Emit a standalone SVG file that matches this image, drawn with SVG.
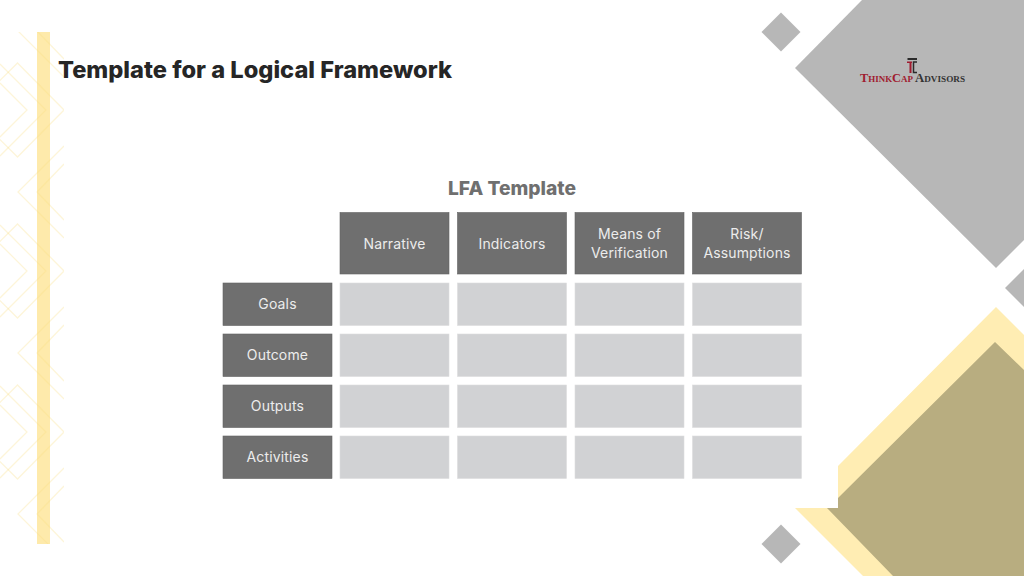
<svg xmlns="http://www.w3.org/2000/svg" width="1024" height="576" viewBox="0 0 1024 576">
<style>
.g{fill:#b7b7b7}.y{fill:#ffedb3}.o{fill:#b8ad80}
.d{fill:#6f6f6f;stroke:#636363;stroke-width:.6}.l{fill:#d1d2d4;stroke:#dcdcde;stroke-width:.6}
.t{font-family:Inter,"Liberation Sans",sans-serif;font-size:14px;letter-spacing:.15px;fill:#ececec;text-anchor:middle}
.p{fill:none;stroke:#f9dd80;stroke-opacity:.3;stroke-width:1.3}
.lg{font-family:"Liberation Serif",serif;font-size:12.5px;font-variant:small-caps;font-weight:bold}
</style>
<defs>
<clipPath id="c"><rect x="0" y="32" width="64" height="512"/></clipPath>
<g id="tile" class="p">
<path d="M-30 110L17.500 63L64 110L17.500 157L-30 110"/>
<path d="M0 64L46 110L0 156"/>
<path d="M0 83L27 110L0 137"/>
<path d="M64 146L18 192L64 238"/>
<path d="M64 164L37 192L64 220"/>
</g>
</defs>
<rect width="1024" height="576" fill="#fff"/>
<g id="pattern-back"><rect x="37" y="32" width="13" height="512" fill="#feeaab"/>
<g clip-path="url(#c)"><use href="#tile" y="-161"/><use href="#tile"/><use href="#tile" y="161"/><use href="#tile" y="322"/></g></g>
<g id="decor">
<path class="g" d="M862 0H1024V240L996 268L795 68Z"/>
<path class="g" d="M781 12.500L800.500 32L781 51.500L761.500 32Z"/>
<path class="g" d="M781 524.500L800.500 544L781 563.500L761.500 544Z"/>
<path class="g" d="M1024 269V307L1005 288Z"/>
<path class="y" d="M996 307L1024 335V576H863L795 508H838V466Z"/>
<path class="o" d="M995 342L1024 370V576H893L827 508H838V498Z"/>
</g>
<g id="logo">
<rect x="907.500" y="58" width="9.500" height="2" fill="#2b2b2b"/>
<rect x="907" y="61.500" width="5" height="1.500" fill="#a01c30"/>
<rect x="909.500" y="62" width="2" height="11" fill="#a01c30"/>
<path d="M917 62H913.500V72.500H917" fill="none" stroke="#2b2b2b" stroke-width="1.500"/>
<text class="lg" x="860" y="81.500" fill="#a01c30" textLength="53" lengthAdjust="spacingAndGlyphs">ThinkCap</text>
<text class="lg" x="915" y="81.500" fill="#333" textLength="50" lengthAdjust="spacingAndGlyphs">Advisors</text>
</g>
<text id="title" x="58" y="78" font-family="Inter,'Liberation Sans',sans-serif" font-weight="800" font-size="23" fill="#262626" textLength="394" lengthAdjust="spacingAndGlyphs">Template for a Logical Framework</text>
<text id="subtitle" x="512" y="195" text-anchor="middle" font-family="Inter,'Liberation Sans',sans-serif" font-weight="800" font-size="19" fill="#6f6f6f" textLength="128" lengthAdjust="spacingAndGlyphs">LFA Template</text>
<g id="headers">
<g id="h1"><rect class="d" x="340" y="212.500" width="109" height="61.500"/><text class="t" x="394.500" y="248.500">Narrative</text></g>
<g id="h2"><rect class="d" x="457.500" y="212.500" width="109" height="61.500"/><text class="t" x="512" y="248.500">Indicators</text></g>
<g id="h3"><rect class="d" x="575" y="212.500" width="109" height="61.500"/><text class="t" x="629.500" y="239">Means of</text><text class="t" x="629.500" y="258">Verification</text></g>
<g id="h4"><rect class="d" x="692.500" y="212.500" width="109" height="61.500"/><text class="t" x="747" y="239">Risk/</text><text class="t" x="747" y="258">Assumptions</text></g>
</g>
<g id="rows">
<g id="r1"><rect class="d" x="223" y="283" width="109" height="42.500"/><text class="t" x="277.500" y="309">Goals</text></g>
<g id="r2"><rect class="d" x="223" y="334" width="109" height="42.500"/><text class="t" x="277.500" y="360">Outcome</text></g>
<g id="r3"><rect class="d" x="223" y="385" width="109" height="42.500"/><text class="t" x="277.500" y="411">Outputs</text></g>
<g id="r4"><rect class="d" x="223" y="436" width="109" height="42.500"/><text class="t" x="277.500" y="462">Activities</text></g>
</g>
<g id="cells">
<rect class="l" x="340" y="283" width="109" height="42.500"/><rect class="l" x="457.500" y="283" width="109" height="42.500"/><rect class="l" x="575" y="283" width="109" height="42.500"/><rect class="l" x="692.500" y="283" width="109" height="42.500"/>
<rect class="l" x="340" y="334" width="109" height="42.500"/><rect class="l" x="457.500" y="334" width="109" height="42.500"/><rect class="l" x="575" y="334" width="109" height="42.500"/><rect class="l" x="692.500" y="334" width="109" height="42.500"/>
<rect class="l" x="340" y="385" width="109" height="42.500"/><rect class="l" x="457.500" y="385" width="109" height="42.500"/><rect class="l" x="575" y="385" width="109" height="42.500"/><rect class="l" x="692.500" y="385" width="109" height="42.500"/>
<rect class="l" x="340" y="436" width="109" height="42.500"/><rect class="l" x="457.500" y="436" width="109" height="42.500"/><rect class="l" x="575" y="436" width="109" height="42.500"/><rect class="l" x="692.500" y="436" width="109" height="42.500"/>
</g>
</svg>
